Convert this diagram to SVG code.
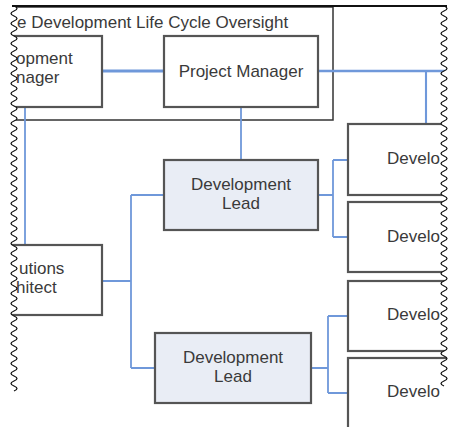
<svg xmlns="http://www.w3.org/2000/svg" width="450" height="427" viewBox="0 0 450 427">
  <style>
    .box { fill: #ffffff; stroke: #555555; stroke-width: 2.2; }
    .lead { fill: #e9edf5; stroke: #555555; stroke-width: 2.2; }
    .frame { fill: none; stroke: #333333; stroke-width: 1.5; }
    .lbl { font-family: "Liberation Sans", Arial, sans-serif; font-size: 17px; fill: #3a3a3a; }
    .mid { text-anchor: middle; }
    .conn { fill: none; stroke: #6f98da; stroke-width: 1.8; }
    .thick { stroke-width: 3.2; }
    .trunk { stroke-width: 2.6; }
    .drop { stroke-width: 2.1; }
    .edge { fill: none; stroke: #111111; stroke-width: 1.3; }
    .mask { fill: #ffffff; stroke: none; }
  </style>
  <rect width="450" height="427" fill="#ffffff"/>

  <!-- oversight container -->
  <g id="oversight">
    <rect class="frame" x="-60" y="7" width="393" height="113"/>
    <text class="lbl" x="17" y="28">e Development Life Cycle Oversight</text>
  </g>

  <!-- connectors -->
  <g id="connectors">
    <path class="conn thick" d="M102,71 H164"/>
    <path class="conn trunk" d="M318,71 H450"/>
    <path class="conn drop" d="M426,71 V124"/>
    <path class="conn" d="M241,107 V160"/>
    <path class="conn" d="M25,107 V245"/>
    <path class="conn" d="M102,281 H131 M131,195 V368 M131,195 H164 M131,368 H155"/>
    <path class="conn" d="M318,195 H333 M333,160 V237 M333,160 H348 M333,237 H348"/>
    <path class="conn" d="M311,368 H328 M328,316 V393 M328,316 H348 M328,393 H348"/>
  </g>

  <g id="dev-manager">
    <rect class="box" x="-60" y="36" width="162" height="71"/>
    <text class="lbl" x="16" y="64">opment</text>
    <text class="lbl" x="16" y="83">nager</text>
  </g>

  <g id="project-manager">
    <rect class="box" x="164" y="36" width="154" height="71"/>
    <text class="lbl mid" x="241" y="77">Project Manager</text>
  </g>

  <g id="solutions-architect">
    <rect class="box" x="-60" y="245" width="162" height="70"/>
    <text class="lbl" x="19" y="274">utions</text>
    <text class="lbl" x="16" y="293">hitect</text>
  </g>

  <g id="dev-lead-1">
    <rect class="lead" x="164" y="160" width="154" height="70"/>
    <text class="lbl mid" x="241" y="190">Development</text>
    <text class="lbl mid" x="241" y="209">Lead</text>
  </g>

  <g id="dev-lead-2">
    <rect class="lead" x="155" y="333" width="156" height="70"/>
    <text class="lbl mid" x="233" y="363">Development</text>
    <text class="lbl mid" x="233" y="382">Lead</text>
  </g>

  <g id="developer-1">
    <rect class="box" x="348" y="124" width="130" height="71"/>
    <text class="lbl" x="387" y="164">Develo</text>
  </g>
  <g id="developer-2">
    <rect class="box" x="348" y="202" width="130" height="70"/>
    <text class="lbl" x="387" y="242">Develo</text>
  </g>
  <g id="developer-3">
    <rect class="box" x="348" y="281" width="130" height="70"/>
    <text class="lbl" x="387" y="320">Develo</text>
  </g>
  <g id="developer-4">
    <rect class="box" x="348" y="358" width="130" height="90"/>
    <text class="lbl" x="387" y="397">Develo</text>
  </g>

  <!-- torn edges: white margins and wavy cut lines -->
  <g id="torn-edges">
    <path class="mask" d="M0,0 H14 V6 q6,2.5 0,5 t 0,5 0,5 0,5 0,5 0,5 0,5 0,5 0,5 0,5 0,5 0,5 0,5 0,5 0,5 0,5 0,5 0,5 0,5 0,5 0,5 0,5 0,5 0,5 0,5 0,5 0,5 0,5 0,5 0,5 0,5 0,5 0,5 0,5 0,5 0,5 0,5 0,5 0,5 0,5 0,5 0,5 0,5 0,5 0,5 0,5 0,5 0,5 0,5 0,5 0,5 0,5 0,5 0,5 0,5 0,5 0,5 0,5 0,5 0,5 0,5 0,5 0,5 0,5 0,5 0,5 0,5 0,5 0,5 0,5 0,5 0,5 0,5 0,5 0,5 0,5 0,5 H0 Z"/>
    <path class="mask" d="M450,0 H444 V6 q6,2.5 0,5 t 0,5 0,5 0,5 0,5 0,5 0,5 0,5 0,5 0,5 0,5 0,5 0,5 0,5 0,5 0,5 0,5 0,5 0,5 0,5 0,5 0,5 0,5 0,5 0,5 0,5 0,5 0,5 0,5 0,5 0,5 0,5 0,5 0,5 0,5 0,5 0,5 0,5 0,5 0,5 0,5 0,5 0,5 0,5 0,5 0,5 0,5 0,5 0,5 0,5 0,5 0,5 0,5 0,5 0,5 0,5 0,5 0,5 0,5 0,5 0,5 0,5 0,5 0,5 0,5 0,5 0,5 0,5 0,5 0,5 0,5 0,5 0,5 0,5 0,5 H450 Z"/>
    <path class="edge" d="M14,6 q6,2.5 0,5 t 0,5 0,5 0,5 0,5 0,5 0,5 0,5 0,5 0,5 0,5 0,5 0,5 0,5 0,5 0,5 0,5 0,5 0,5 0,5 0,5 0,5 0,5 0,5 0,5 0,5 0,5 0,5 0,5 0,5 0,5 0,5 0,5 0,5 0,5 0,5 0,5 0,5 0,5 0,5 0,5 0,5 0,5 0,5 0,5 0,5 0,5 0,5 0,5 0,5 0,5 0,5 0,5 0,5 0,5 0,5 0,5 0,5 0,5 0,5 0,5 0,5 0,5 0,5 0,5 0,5 0,5 0,5 0,5 0,5 0,5 0,5 0,5 0,5 0,5 0,5 0,5"/>
    <path class="edge" d="M444,6 q6,2.5 0,5 t 0,5 0,5 0,5 0,5 0,5 0,5 0,5 0,5 0,5 0,5 0,5 0,5 0,5 0,5 0,5 0,5 0,5 0,5 0,5 0,5 0,5 0,5 0,5 0,5 0,5 0,5 0,5 0,5 0,5 0,5 0,5 0,5 0,5 0,5 0,5 0,5 0,5 0,5 0,5 0,5 0,5 0,5 0,5 0,5 0,5 0,5 0,5 0,5 0,5 0,5 0,5 0,5 0,5 0,5 0,5 0,5 0,5 0,5 0,5 0,5 0,5 0,5 0,5 0,5 0,5 0,5 0,5 0,5 0,5 0,5 0,5 0,5 0,5 0,5 0,5"/>
    <path d="M12,6 H447" stroke="#111111" stroke-width="2" fill="none"/>
  </g>
</svg>
